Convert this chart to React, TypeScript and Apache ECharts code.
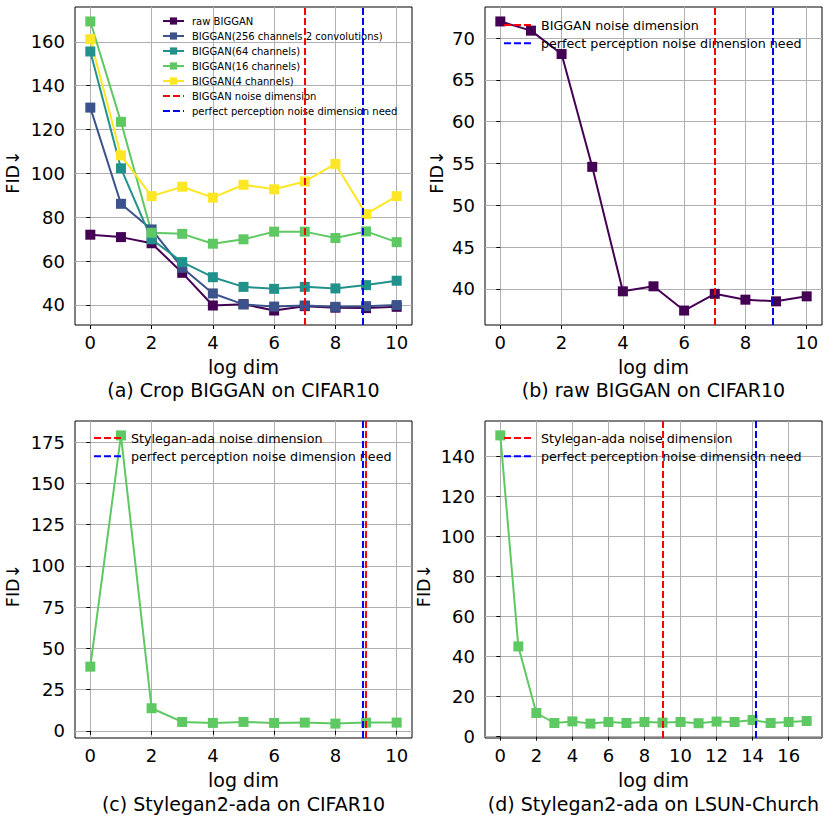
import React, { useEffect, useRef } from "react";
import * as echarts from "echarts";

const FONT = "DejaVu Sans";

// ---- data ----
const LOG_DIM_10 = [0, 1, 2, 3, 4, 5, 6, 7, 8, 9, 10];
const LOG_DIM_17 = [0, 1, 2, 3, 4, 5, 6, 7, 8, 9, 10, 11, 12, 13, 14, 15, 16, 17];

const RAW_BIGGAN = [72.0, 70.9, 68.1, 54.6, 39.7, 40.3, 37.4, 39.4, 38.7, 38.5, 39.1];
const BIGGAN_256 = [130.0, 86.1, 74.4, 56.9, 45.2, 40.2, 39.2, 39.7, 39.1, 39.4, 39.9];
const BIGGAN_64 = [155.6, 102.3, 69.9, 59.5, 52.6, 48.2, 47.3, 48.2, 47.5, 49.0, 51.0];
const BIGGAN_16 = [169.3, 123.5, 72.9, 72.4, 67.9, 69.9, 73.4, 73.4, 70.5, 73.5, 68.6];
const BIGGAN_4 = [161.2, 108.2, 89.6, 93.9, 88.9, 94.8, 92.7, 96.3, 104.3, 81.4, 89.6];
const STYLEGAN_CIFAR = [38.9, 179.0, 13.7, 5.4, 4.8, 5.4, 4.8, 5.0, 4.4, 5.0, 5.0];
const STYLEGAN_CHURCH = [150.6, 45.1, 11.8, 6.8, 7.6, 6.5, 7.3, 6.8, 7.3, 7.0, 7.3, 6.7, 7.5, 7.3, 8.3, 6.8, 7.3, 7.8];

const BIGGAN_NOISE_DIM = 7;
const PERFECT_DIM_CIFAR = 8.9;
const STYLEGAN_NOISE_DIM_CIFAR = 9;
const STYLEGAN_NOISE_DIM_CHURCH = 9;
const PERFECT_DIM_CHURCH = 14.2;

const X_TICKS_10 = [0, 2, 4, 6, 8, 10];
const X_TICKS_17 = [0, 2, 4, 6, 8, 10, 12, 14, 16];
const Y_TICKS_A = [40, 60, 80, 100, 120, 140, 160];
const Y_TICKS_B = [40, 45, 50, 55, 60, 65, 70];
const Y_TICKS_C = [0, 25, 50, 75, 100, 125, 150, 175];
const Y_TICKS_D = [0, 20, 40, 60, 80, 100, 120, 140];

const X_RANGE_10 = [-0.5, 10.5];
const X_RANGE_17 = [-0.85, 17.85];
const Y_RANGE_A = [30.8, 175.9];
const Y_RANGE_B = [35.67, 73.73];
const Y_RANGE_C = [-4.33, 187.73];
const Y_RANGE_D = [-0.7, 157.8];

const CAPTIONS = [
  "(a) Crop BIGGAN on CIFAR10",
  "(b) raw BIGGAN on CIFAR10",
  "(c) Stylegan2-ada on CIFAR10",
  "(d) Stylegan2-ada on LSUN-Church",
];

const N_RAW = "raw BIGGAN";
const N_256 = "BIGGAN(256 channels 2 convolutions)";
const N_64 = "BIGGAN(64 channels)";
const N_16 = "BIGGAN(16 channels)";
const N_4 = "BIGGAN(4 channels)";
const N_BIG_NOISE = "BIGGAN noise dimension";
const N_STY_NOISE = "Stylegan-ada noise dimension";
const N_PERFECT = "perfect perception noise dimension need";

const C_RAW = "#440154";
const C_256 = "#3b528b";
const C_64 = "#21918c";
const C_16 = "#5ec962";
const C_4 = "#fde725";
const C_RED = "#ff0000";
const C_BLUE = "#0000ff";

// ---- builders ----
const GRIDS = [
  { left: 75, top: 7, width: 337, height: 318 },
  { left: 485, top: 7, width: 337, height: 318 },
  { left: 75, top: 421, width: 337, height: 317 },
  { left: 485, top: 421, width: 337, height: 317 },
];

function xAxis(idx: number, range: number[], ticks: number[]) {
  return {
    type: "value",
    gridIndex: idx,
    min: range[0],
    max: range[1],
    axisLine: { show: false },
    axisTick: { show: true, inside: false, length: 4, lineStyle: { color: "#000", width: 1 }, customValues: ticks },
    axisLabel: { customValues: ticks, fontSize: 18, fontFamily: FONT, color: "#000", margin: 8 },
    splitLine: { show: true, lineStyle: { color: "#b0b0b0", width: 1 } },
    name: "log dim",
    nameLocation: "middle",
    nameGap: 32,
    nameTextStyle: { fontSize: 19, fontFamily: FONT, color: "#000" },
  };
}

function yAxis(idx: number, range: number[], ticks: number[], nameGap: number) {
  return {
    type: "value",
    gridIndex: idx,
    min: range[0],
    max: range[1],
    axisLine: { show: false },
    axisTick: { show: true, inside: false, length: 4, lineStyle: { color: "#000", width: 1 }, customValues: ticks },
    axisLabel: { customValues: ticks, fontSize: 18, fontFamily: FONT, color: "#000", margin: 10 },
    splitLine: { show: true, lineStyle: { color: "#b0b0b0", width: 1 } },
    name: "FID↓",
    nameLocation: "middle",
    nameGap,
    nameTextStyle: { fontSize: 17.5, fontFamily: FONT, color: "#000", padding: [0, 12, 0, 0] },
  };
}

function dataSeries(name: string, color: string, xs: number[], ys: number[], idx: number) {
  return {
    type: "line",
    name,
    xAxisIndex: idx,
    yAxisIndex: idx,
    data: xs.map((x, i) => [x, ys[i]]),
    symbol: "rect",
    symbolSize: 10,
    showSymbol: true,
    lineStyle: { color, width: 2 },
    itemStyle: { color },
    emphasis: { disabled: true },
    silent: true,
  };
}

function vlineSeries(name: string, color: string, x: number, idx: number) {
  return {
    type: "line",
    name,
    xAxisIndex: idx,
    yAxisIndex: idx,
    data: [],
    symbol: "none",
    lineStyle: { color, width: 2, type: [7, 3] },
    itemStyle: { color, opacity: 0 },
    silent: true,
    markLine: {
      silent: true,
      symbol: "none",
      label: { show: false },
      emphasis: { disabled: true },
      lineStyle: { color, width: 2, type: [7, 3] },
      data: [{ xAxis: x }],
    },
  };
}

function legend(left: number, top: number, names: string[], fontSize: number, itemWidth: number, itemHeight: number, itemGap: number, textPad: number, dashed: string[]) {
  return {
    orient: "vertical",
    left,
    top,
    padding: 0,
    itemWidth,
    itemHeight,
    itemGap,
    selectedMode: false,
    textStyle: { fontSize, fontFamily: FONT, color: "#000", padding: [0, 0, 0, textPad] },
    data: names.map((n) => (dashed.includes(n) ? { name: n, itemStyle: { opacity: 0 } } : { name: n })),
  };
}

export default function App() {
  const ref = useRef<HTMLDivElement>(null);
  useEffect(() => {
    document.body.style.margin = "0";
    const chart = echarts.init(ref.current!, null, { renderer: "svg" });
    const dashedNames = [N_BIG_NOISE, N_STY_NOISE, N_PERFECT];
    const captionPos = [
      [243.5, 390],
      [653.5, 390],
      [243.5, 804],
      [653.5, 804],
    ];
    chart.setOption({
      animation: false,
      backgroundColor: "#ffffff",
      grid: GRIDS.map((g) => ({ ...g, show: true, borderColor: "#000", borderWidth: 1, backgroundColor: "transparent" })),
      xAxis: [xAxis(0, X_RANGE_10, X_TICKS_10), xAxis(1, X_RANGE_10, X_TICKS_10), xAxis(2, X_RANGE_10, X_TICKS_10), xAxis(3, X_RANGE_17, X_TICKS_17)],
      yAxis: [yAxis(0, Y_RANGE_A, Y_TICKS_A, 53), yAxis(1, Y_RANGE_B, Y_TICKS_B, 39), yAxis(2, Y_RANGE_C, Y_TICKS_C, 53), yAxis(3, Y_RANGE_D, Y_TICKS_D, 52)],
      legend: [
        legend(162, 16, [N_RAW, N_256, N_64, N_16, N_4, N_BIG_NOISE, N_PERFECT], 10, 21, 9, 5, 3, dashedNames),
        legend(503, 18.5, [N_BIG_NOISE, N_PERFECT], 12.7, 27, 13, 5.3, 5, dashedNames),
        legend(93, 431.5, [N_STY_NOISE, N_PERFECT], 12.7, 27, 13, 5.3, 5, dashedNames),
        legend(503, 431.5, [N_STY_NOISE, N_PERFECT], 12.7, 27, 13, 5.3, 5, dashedNames),
      ],
      series: [
        dataSeries(N_RAW, C_RAW, LOG_DIM_10, RAW_BIGGAN, 0),
        dataSeries(N_256, C_256, LOG_DIM_10, BIGGAN_256, 0),
        dataSeries(N_64, C_64, LOG_DIM_10, BIGGAN_64, 0),
        dataSeries(N_16, C_16, LOG_DIM_10, BIGGAN_16, 0),
        dataSeries(N_4, C_4, LOG_DIM_10, BIGGAN_4, 0),
        vlineSeries(N_BIG_NOISE, C_RED, BIGGAN_NOISE_DIM, 0),
        vlineSeries(N_PERFECT, C_BLUE, PERFECT_DIM_CIFAR, 0),

        dataSeries(N_RAW, C_RAW, LOG_DIM_10, RAW_BIGGAN, 1),
        vlineSeries(N_BIG_NOISE, C_RED, BIGGAN_NOISE_DIM, 1),
        vlineSeries(N_PERFECT, C_BLUE, PERFECT_DIM_CIFAR, 1),

        dataSeries("Stylegan2-ada CIFAR10", C_16, LOG_DIM_10, STYLEGAN_CIFAR, 2),
        vlineSeries(N_STY_NOISE, C_RED, STYLEGAN_NOISE_DIM_CIFAR, 2),
        vlineSeries(N_PERFECT, C_BLUE, PERFECT_DIM_CIFAR, 2),

        dataSeries("Stylegan2-ada LSUN-Church", C_16, LOG_DIM_17, STYLEGAN_CHURCH, 3),
        vlineSeries(N_STY_NOISE, C_RED, STYLEGAN_NOISE_DIM_CHURCH, 3),
        vlineSeries(N_PERFECT, C_BLUE, PERFECT_DIM_CHURCH, 3),
      ],
      graphic: CAPTIONS.map((t, i) => ({
        type: "text",
        x: captionPos[i][0],
        y: captionPos[i][1],
        silent: true,
        style: { text: t, fontSize: 19, fontFamily: FONT, fill: "#000", align: "center", verticalAlign: "middle" },
      })),
    });
    return () => chart.dispose();
  }, []);
  return <div ref={ref} style={{ position: "absolute", left: 0, top: 0, width: 830, height: 830 }} />;
}
